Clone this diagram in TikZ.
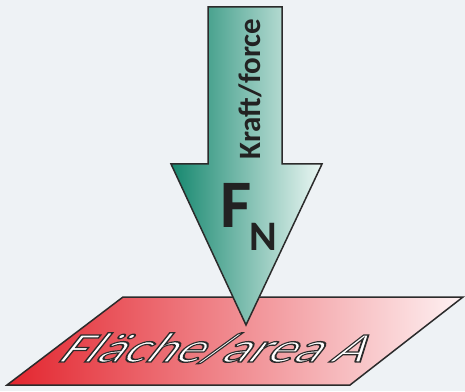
\documentclass[tikz,border=0pt]{standalone}
\usepackage{fontspec}
\setmainfont{Carlito}
\usepackage{xcolor}
\usepackage{tikz}
\usetikzlibrary{calc,positioning}
\definecolor{bgc}{HTML}{EEF2F5}
\definecolor{linec}{HTML}{2B2B2B}
\definecolor{forcel}{HTML}{15876E}
\definecolor{forcer}{HTML}{ECF7F4}
\definecolor{planel}{HTML}{E3252E}
\definecolor{planer}{HTML}{FEF2F3}
\definecolor{textc}{HTML}{222222}
\tikzset{
  edge/.style={draw=linec,line width=1.5pt,line join=miter},
  lbl/.style={inner sep=0pt,text=textc,font=\bfseries}
}

\begin{document}
\begin{tikzpicture}[x=1pt,y=1pt]
\useasboundingbox (0,0) rectangle (465,391);
\fill[bgc] (0,0) rectangle (465,391);
% area
\shade[edge,left color=planel,right color=planer] (7,6) -- (350,6) -- (463,94) -- (123,94) -- cycle;
\node[inner sep=0pt,anchor=base,xslant=0.8,xscale=1.3,text=white,font=\fontsize{42}{42}\selectfont] (flaeche) at (208,29)
  {\special{pdf:literal direct 0.17 0.17 0.17 RG 1.3 w 2 Tr}Fläche/area A\special{pdf:literal direct 0 Tr}};
% force arrow
\shade[edge,left color=forcel,right color=forcer] (208,384) -- (282,384) -- (282,227) -- (322,227)
  -- (246,66) -- (171,227) -- (208,227) -- cycle;
\node[lbl,rotate=90,anchor=base,font=\bfseries\fontsize{31}{31}\selectfont] (kraft) at (260,302) {Kraft/force};
\node[lbl,anchor=base west,font=\bfseries\fontsize{68}{68}\selectfont] (fn) at (220,164)
  {F\kern-2pt\raisebox{-23pt}{\fontsize{42}{42}\selectfont N}};
\end{tikzpicture}
\end{document}
